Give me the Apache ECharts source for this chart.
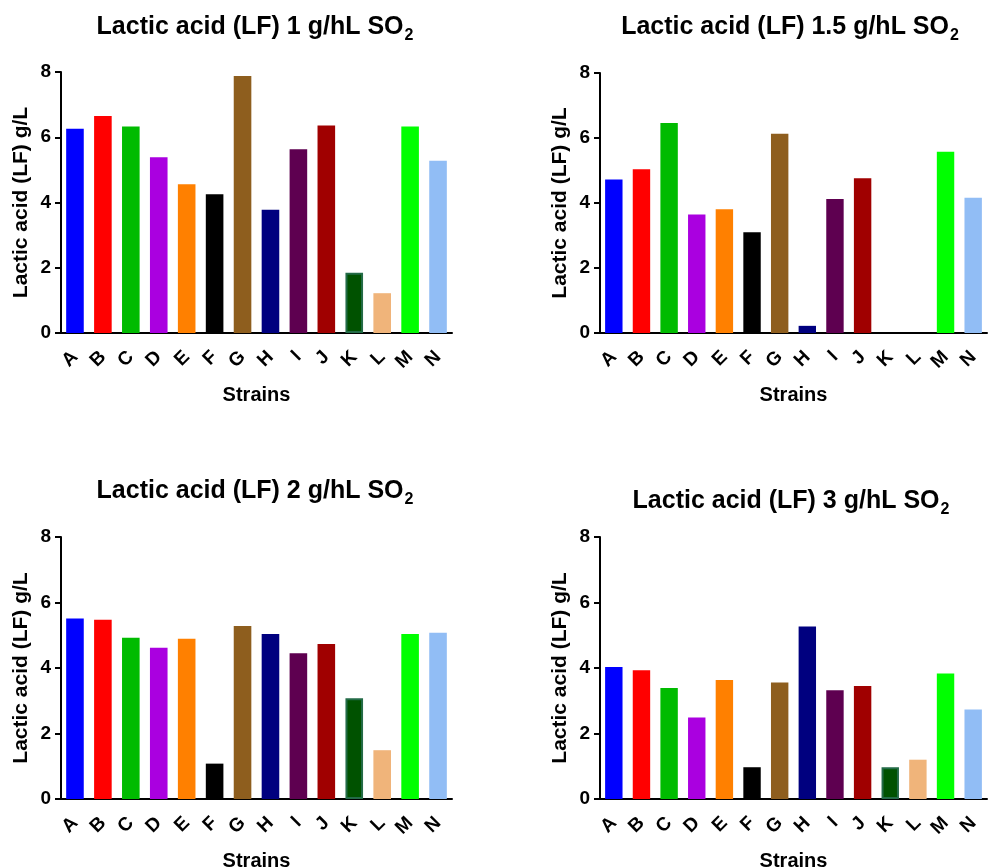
<!DOCTYPE html>
<html>
<head>
<meta charset="utf-8">
<script src="https://cdn.jsdelivr.net/npm/echarts@6/dist/echarts.min.js"></script>
<style>
html,body{margin:0;padding:0;background:#fff;}
#chart{width:988px;height:867px;}
</style>
</head>
<body>
<div id="chart"></div>
<script>
const categories = ['A','B','C','D','E','F','G','H','I','J','K','L','M','N'];
const barColors = ['#0000FF','#FF0000','#00BB00','#AA00E0','#FF8000','#000000','#8E5E1E','#00007F','#5E0050','#A00000','#005200','#F0B47A','#00FF00','#91BDF5'];
const doses = ['1','1.5','2','3'];
const lf1 = [6.26, 6.65, 6.33, 5.39, 4.56, 4.25, 7.88, 3.78, 5.63, 6.36, 1.85, 1.22, 6.33, 5.28];
const lf15 = [4.72, 5.04, 6.46, 3.65, 3.81, 3.10, 6.13, 0.22, 4.12, 4.76, 0, 0, 5.58, 4.16];
const lf2 = [5.51, 5.47, 4.92, 4.62, 4.89, 1.08, 5.28, 5.04, 4.45, 4.73, 3.08, 1.49, 5.04, 5.08];
const lf3 = [4.03, 3.93, 3.39, 2.49, 3.63, 0.97, 3.56, 5.27, 3.32, 3.45, 0.97, 1.20, 3.83, 2.73];
const yTicks = [0, 2, 4, 6, 8];
const yName = 'Lactic acid (LF) g/L';
const xName = 'Strains';

const allData = [lf1, lf15, lf2, lf3];
const FONT = "'Liberation Sans', Arial, sans-serif";

const grids = [
  {left: 61, top: 72, width: 391, height: 261},
  {left: 600, top: 73, width: 387, height: 260},
  {left: 61, top: 537, width: 391, height: 262},
  {left: 600, top: 537, width: 387, height: 262}
];
const titlePos = [
  {left: 255, top: 15},
  {left: 790, top: 15},
  {left: 255, top: 479},
  {left: 791, top: 489}
];

const option = {
  backgroundColor: '#fff',
  animation: false,
  title: doses.map((d, i) => ({
    text: '{m|Lactic acid (LF) ' + d + ' g/hL SO}{s|2}',
    left: titlePos[i].left,
    top: titlePos[i].top,
    textAlign: 'center',
    padding: 0,
    textStyle: {
      rich: {
        m: {fontSize: 25, fontWeight: 'bold', fontFamily: FONT, color: '#000', lineHeight: 26, verticalAlign: 'top'},
        s: {fontSize: 16, fontWeight: 'bold', fontFamily: FONT, color: '#000', lineHeight: 16, padding: [13, 0, 0, 1], verticalAlign: 'top'}
      }
    }
  })),
  grid: grids.map(g => Object.assign({containLabel: false, outerBoundsMode: 'none'}, g)),
  xAxis: grids.map((g, i) => ({
    type: 'category',
    gridIndex: i,
    data: categories,
    name: xName,
    nameLocation: 'middle',
    nameGap: 52,
    nameTextStyle: {fontSize: 20, fontWeight: 'bold', fontFamily: FONT, color: '#000'},
    axisLine: {lineStyle: {color: '#000', width: 2}},
    axisTick: {alignWithLabel: true, length: 7, lineStyle: {color: '#000', width: 2}},
    axisLabel: {rotate: 45, fontSize: 19, fontWeight: 'bold', fontFamily: FONT, color: '#000', margin: 21, interval: 0},
    splitLine: {show: false}
  })),
  yAxis: grids.map((g, i) => ({
    type: 'value',
    gridIndex: i,
    min: yTicks[0],
    max: yTicks[yTicks.length - 1],
    interval: yTicks[1] - yTicks[0],
    name: yName,
    nameLocation: 'middle',
    nameGap: 29,
    nameTextStyle: {fontSize: 21, fontWeight: 'bold', fontFamily: FONT, color: '#000'},
    axisLine: {show: true, lineStyle: {color: '#000', width: 2}},
    axisTick: {show: true, length: 6, lineStyle: {color: '#000', width: 2}},
    axisLabel: {fontSize: 19, fontWeight: 'bold', fontFamily: FONT, color: '#000', margin: 10},
    splitLine: {show: false}
  })),
  series: allData.map((arr, i) => ({
    type: 'bar',
    xAxisIndex: i,
    yAxisIndex: i,
    barWidth: '63%',
    data: arr.map((v, k) => ({
      value: v,
      itemStyle: (categories[k] === 'K' && v > 0)
        ? {color: barColors[k], borderColor: '#236B47', borderWidth: 2}
        : {color: barColors[k]}
    }))
  }))
};

const chart = echarts.init(document.getElementById('chart'), null, {renderer: 'canvas'});
chart.setOption(option);
</script>
</body>
</html>
